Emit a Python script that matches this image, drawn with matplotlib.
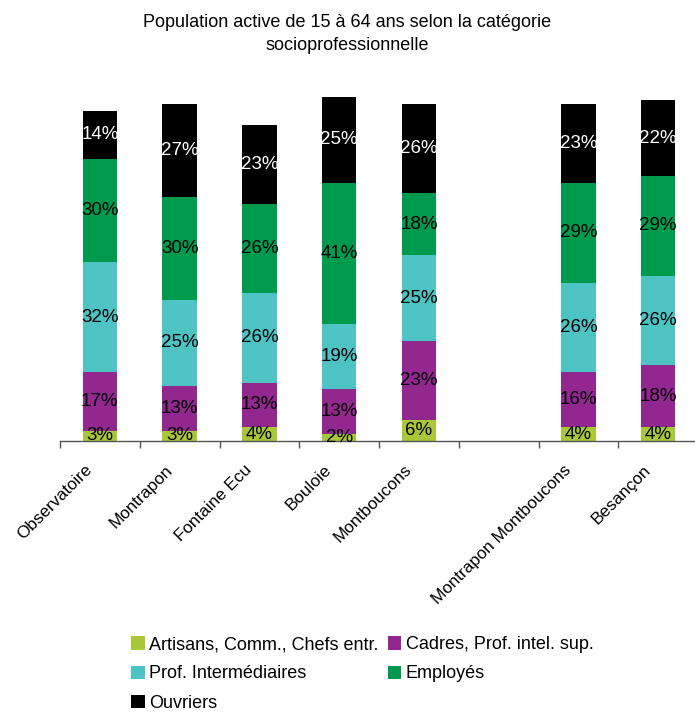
import numpy as np
import matplotlib
matplotlib.use("Agg")
import matplotlib.pyplot as plt
from matplotlib.ticker import FixedLocator
from matplotlib.transforms import ScaledTranslation

plt.rcParams['font.family'] = ['Liberation Sans', 'DejaVu Sans']

categories = ["Observatoire", "Montrapon", "Fontaine Ecu", "Bouloie", "Montboucons",
              "", "Montrapon Montboucons", "Besançon"]
artisans = [3, 3, 4, 2, 6, np.nan, 4, 4]
cadres = [17, 13, 13, 13, 23, np.nan, 16, 18]
prof_inter = [32, 25, 26, 19, 25, np.nan, 26, 26]
employes = [30, 30, 26, 41, 18, np.nan, 29, 29]
ouvriers = [14, 27, 23, 25, 26, np.nan, 23, 22]

series_names = ["Artisans, Comm., Chefs entr.", "Cadres, Prof. intel. sup.",
                "Prof. Intermédiaires", "Employés", "Ouvriers"]
series = [artisans, cadres, prof_inter, employes, ouvriers]
colors = ["#A8C83A", "#92278F", "#4DC3C3", "#009A4E", "#000000"]
label_colors = ["black", "black", "black", "black", "white"]

fig = plt.figure(figsize=(6.95, 7.13), dpi=100)
ax = fig.add_axes([60 / 695, (713 - 441) / 713, 638 / 695, 344 / 713])

x = np.arange(len(categories))
bottom = np.zeros(len(categories))
handles = []
for name, vals, col, tcol in zip(series_names, series, colors, label_colors):
    v = np.array(vals, dtype=float)
    b = ax.bar(x, v, bottom=bottom, width=0.43, color=col, label=name, linewidth=0)
    handles.append(b)
    for xi, vi, bi in zip(x, v, bottom):
        if np.isfinite(vi):
            ax.text(xi, bi + vi / 2, f"{int(vi)}%", ha="center", va="center",
                    fontsize=13.5, color=tcol)
    bottom = bottom + np.nan_to_num(v)

ax.set_xlim(-0.5, len(categories) - 0.5)
ax.set_ylim(0, 100)
for s in ["top", "right", "left"]:
    ax.spines[s].set_visible(False)
ax.spines["bottom"].set_color("#555555")
ax.spines["bottom"].set_linewidth(1.0)
ax.set_yticks([])

# category names, rotated, ending just left of and below each slot centre
ax.set_xticks(x)
ax.set_xticklabels([])
ax.tick_params(axis="x", which="major", length=0)
offset = ScaledTranslation(-15 / 100, -21 / 100, fig.dpi_scale_trans)
for xi, name in zip(x, categories):
    ax.text(xi, 0, name, transform=ax.get_xaxis_transform() + offset,
            rotation=45, ha="right", va="top", rotation_mode="anchor",
            fontsize=12.3, clip_on=False)
ax.xaxis.set_minor_locator(FixedLocator(np.arange(-0.5, len(categories), 1.0)))
ax.tick_params(axis="x", which="minor", length=5, width=1.0, color="#555555", direction="out")

fig.text(0.5, 1 - 34 / 713, "Population active de 15 à 64 ans selon la catégorie\nsocioprofessionnelle",
         ha="center", va="center", fontsize=13, linespacing=1.4)

order = [0, 2, 4, 1, 3]
fig.legend([handles[i] for i in order], [series_names[i] for i in order],
           loc="upper left", bbox_to_anchor=(124 / 695, 1 - 629 / 713), ncol=2,
           frameon=False, fontsize=13, handlelength=0.75, handleheight=0.75,
           handletextpad=0.25, columnspacing=0.5, labelspacing=0.68, borderaxespad=0)

fig.savefig("out.png", dpi=100)
